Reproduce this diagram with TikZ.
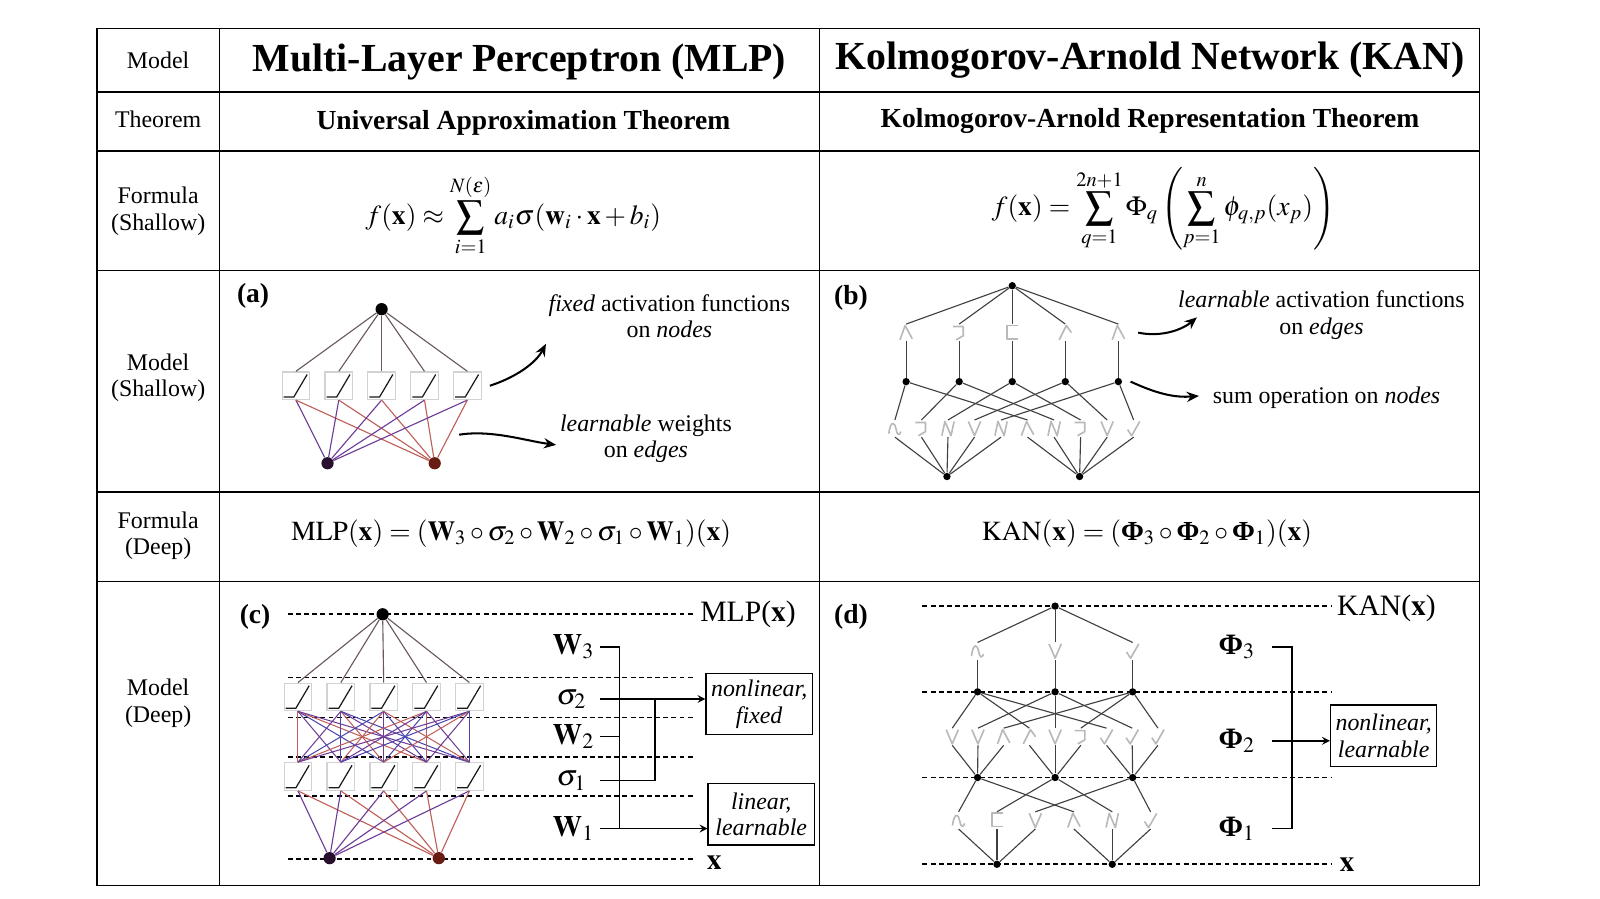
\documentclass[tikz,border=0pt]{standalone}
\usepackage{amsmath}
\usepackage{mathptmx}
\usepackage[no-math]{fontspec}
\setmainfont{Liberation Serif}
\usetikzlibrary{arrows.meta}
\definecolor{edgegray}{RGB}{105,88,92}
\definecolor{mlpviolet}{RGB}{110,60,150}
\definecolor{mlpblue}{RGB}{75,70,175}
\definecolor{mlpred}{RGB}{190,95,90}
\definecolor{leftnode}{RGB}{40,15,45}
\definecolor{rightnode}{RGB}{105,28,20}

\begin{document}
\begin{tikzpicture}[x=0.5pt, y=-0.5pt, >=stealth,
  grid/.style={line width=0.7pt},
  layer/.style={line width=0.8pt, dash pattern=on 2.4pt off 1.6pt},
  lbl/.style={align=center, font=\fontsize{11.7}{13}\selectfont},
  ttl/.style={font=\fontsize{19.5}{22}\selectfont\bfseries},
  thm/.style={font=\fontsize{13.5}{16}\selectfont\bfseries},
  fml/.style={font=\fontsize{13.5}{16}\selectfont},
  note/.style={align=center, font=\fontsize{11.7}{13}\selectfont},
  tag/.style={font=\fontsize{13.5}{16}\selectfont\bfseries},
  sym/.style={font=\fontsize{14.5}{16}\selectfont, inner sep=0pt},
  notebox/.style={draw, line width=0.7pt, align=center, minimum width=52pt, minimum height=30pt, inner sep=1pt, font=\fontsize{11.7}{13}\selectfont\itshape},
  dot/.style={circle, fill=black, inner sep=0pt, minimum size=6pt},
  kdot/.style={circle, fill=black, inner sep=0pt, minimum size=3.6pt},
  relubox/.style={rectangle, draw=gray!35, line width=0.6pt, fill=white, minimum size=13.5pt, inner sep=0pt},
  act/.style={inner sep=0pt, minimum width=7pt, minimum height=8pt},
  glyph/.style={gray!55, line width=0.8pt, line join=round},
  kedge/.style={black!75, line width=0.55pt},
  topedge/.style={edgegray, line width=0.55pt},
  ledge/.style={mlpviolet, line width=0.55pt},
  redge/.style={mlpred, line width=0.55pt},
  medge0/.style={mlpviolet, line width=0.5pt},
  medge1/.style={mlpblue, line width=0.5pt},
  medge2/.style={mlpred, line width=0.5pt},
  brk/.style={line width=0.7pt},
  notearrow/.style={->, >={Stealth[length=6pt, width=5pt]}, line width=1pt},
  pics/relu/.style={code={\draw[gray!20!black, line width=0.6pt] (-12,11) -- (-2,11) -- (11,-11);}},
  pics/kbump/.style={code={\draw[glyph] (-6,7) -- (-1,-7) -- (6,6);}},
  pics/kvalley/.style={code={\draw[glyph] (-6,-7) -- (0,7) -- (6,-7);}},
  pics/kroot/.style={code={\draw[glyph] (-6,1) -- (-2,7) -- (6,-7);}},
  pics/khook/.style={code={\draw[glyph] (-6,-6) -- (4,-6) -- (4,3) -- (-3,7);}},
  pics/kbox/.style={code={\draw[glyph] (6,-7) -- (-5,-7) -- (-5,6) -- (6,6);}},
  pics/kwave/.style={code={\draw[glyph] (-6,5) .. controls (-4,-9) and (0,-6) .. (1,0) .. controls (2,6) and (4,8) .. (6,3);}},
  pics/kN/.style={code={\draw[glyph] (-6,7) -- (-3,-7) -- (3,7) -- (6,-7);}},
  pics/kramp/.style={code={\draw[glyph] (-6,7) -- (1,-7) -- (6,0);}}
]
\newcommand{\Mlpl}{282}; % left end of dashed layers (c)
\newcommand{\Mlpr}{680}; % right end of dashed layers (c)
\newcommand{\Kanl}{904}; % left end of dashed layers (d)
\newcommand{\Kanr}{1305}; % right end of dashed layers (d)

\useasboundingbox (0,0) rectangle (1568,881);

% table
\draw[grid] (95,28) rectangle (1450,868);
\foreach \y in {90,148,265,482,570} \draw[grid] (95,\y) -- (1450,\y);
\draw[grid] (215,28) -- (215,868);
\draw[grid] (803,28) -- (803,868);

% row labels
\node[lbl] (rModel) at (155,59) {Model};
\node[lbl] (rThm) at (155,117) {Theorem};
\node[lbl] (rFs) at (155,207) {Formula\\(Shallow)};
\node[lbl] (rMs) at (155,370) {Model\\(Shallow)};
\node[lbl] (rFd) at (155,525) {Formula\\(Deep)};
\node[lbl] (rMd) at (155,689) {Model\\(Deep)};

% headers
\node[ttl] (tMLP) at (509,61) {Multi-Layer Perceptron (MLP)};
\node[ttl] (tKAN) at (1127,59) {Kolmogorov-Arnold Network (KAN)};
\node[thm] (hMLP) at (513,120) {Universal Approximation Theorem};
\node[thm] (hKAN) at (1127,119) {Kolmogorov-Arnold Representation Theorem};

% formulas
\node[fml] (fsMLP) at (503,211) {$\displaystyle f(\mathbf{x}) \approx \sum_{i=1}^{N(\epsilon)} a_i\sigma(\mathbf{w}_i\cdot\mathbf{x}+b_i)$};
\node[fml] (fsKAN) at (1140,205) {$\displaystyle f(\mathbf{x}) = \sum_{q=1}^{2n+1}\Phi_q\left(\sum_{p=1}^{n}\phi_{q,p}(x_p)\right)$};
\node[fml] (fdMLP) at (501,523) {$\mathrm{MLP}(\mathbf{x}) = (\mathbf{W}_3\circ\sigma_2\circ\mathbf{W}_2\circ\sigma_1\circ\mathbf{W}_1)(\mathbf{x})$};
\node[fml] (fdKAN) at (1124,523) {$\mathrm{KAN}(\mathbf{x}) = (\text{\bfseries Φ}_3\circ\text{\bfseries Φ}_2\circ\text{\bfseries Φ}_1)(\mathbf{x})$};

% (a) shallow MLP
\node[tag] (tagA) at (248,290) {(a)};
\node[dot] (aTop) at (374,303) {};
\node[dot, fill=leftnode] (aL) at (321,454) {};
\node[dot, fill=rightnode] (aR) at (426,454) {};
\foreach \x [count=\i] in {290,332,374,416,458} {
  \node[relubox] (a\i) at (\x,378) {};
  \pic at (a\i) {relu};
  \draw[topedge] (aTop) -- (a\i.north);
  \draw[ledge] (aL) -- (a\i.south);
  \draw[redge] (aR) -- (a\i.south);
}
\node[note] (aFix) at (656,310) {\textit{fixed} activation functions\\on \textit{nodes}};
\node[note] (aLrn) at (633,430) {\textit{learnable} weights\\on \textit{edges}};
\coordinate (aFixTip) at (535,337);
\coordinate (aW0) at (450,426);
\coordinate (aWTip) at (545,436);
\draw[notearrow] ([xshift=4pt]a5.east) .. controls (505,370) and (525,356) .. (aFixTip);
\draw[notearrow] (aW0) .. controls (482,421) and (515,432) .. (aWTip);

% (b) shallow KAN
\node[tag] (tagB) at (834,292) {(b)};
\node[kdot] (bOut) at (992,280) {};
\foreach \x/\g [count=\i] in {888/kbump,940/khook,992/kbox,1044/kramp,1096/kbump} {
  \node[act] (bu\i) at (\x,326) {};
  \pic at (bu\i) {\g};
  \node[kdot] (bh\i) at (\x,374) {};
  \draw[kedge] (bu\i.north) -- (bOut);
  \draw[kedge] (bh\i) -- (bu\i.south);
}
\node[kdot] (bIn1) at (928,467) {};
\node[kdot] (bIn2) at (1058,467) {};
\foreach \g [count=\k] in {kwave,khook,kN,kvalley,kN,kbump,kN,khook,kvalley,kroot} {
  \pgfmathtruncatemacro{\src}{\k<6 ? 1 : 2}
  \pgfmathtruncatemacro{\dst}{\k<6 ? \k : \k-5}
  \node[act] (bl\k) at ({851+26*\k},420) {};
  \pic at (bl\k) {\g};
  \draw[kedge] (bIn\src) -- (bl\k.south);
  \draw[kedge] (bl\k.north) -- (bh\dst);
}
\node[note] (bLrn) at (1295,309) {\textit{learnable} activation functions\\on \textit{edges}};
\node[note] (bSum) at (1300,390) {sum operation on \textit{nodes}};
\coordinate (bLrnTip) at (1173,311);
\coordinate (bSumTip) at (1175,388);
\draw[notearrow] ([xshift=6pt]bu5.east) .. controls (1140,331) and (1160,322) .. (bLrnTip);
\draw[notearrow] ([xshift=4pt]bh5.east) .. controls (1132,385) and (1150,390) .. (bSumTip);

% (c) deep MLP
\node[tag] (tagC) at (250,605) {(c)};
\foreach \y in {602,664,703,742,780,842} \draw[layer] (\Mlpl,\y) -- (\Mlpr,\y);
\node[sym, right] (cOutTxt) at (686,602) {MLP($\mathbf{x}$)};
\node[sym] (cInTxt) at (700,845) {$\mathbf{x}$};
\node[dot] (cTop) at (375,602) {};
\node[dot, fill=leftnode] (cL) at (323,841) {};
\node[dot, fill=rightnode] (cR) at (430,841) {};
\foreach \x [count=\i] in {292,334,376,418,460} {
  \node[relubox] (cu\i) at (\x,683) {};
  \pic at (cu\i) {relu};
  \node[relubox] (cl\i) at (\x,761) {};
  \pic at (cl\i) {relu};
  \draw[topedge] (cTop) -- (cu\i.north);
  \draw[ledge] (cL) -- (cl\i.south);
  \draw[redge] (cR) -- (cl\i.south);
}
\foreach \i in {1,...,5} \foreach \j in {1,...,5} {
  \pgfmathtruncatemacro{\c}{mod(\i+\j,3)}
  \draw[medge\c] (cu\i.south) -- (cl\j.north);
}
\node[sym] (w3) at (562,634) {$\mathbf{W}_3$};
\node[sym] (s2) at (560,685) {$\sigma_2$};
\node[sym] (w2) at (562,722) {$\mathbf{W}_2$};
\node[sym] (s1) at (560,765) {$\sigma_1$};
\node[sym] (w1) at (562,812) {$\mathbf{W}_1$};
\node[notebox] (nFix) at (744,690) {nonlinear,\\fixed};
\node[notebox] (nLin) at (746,798) {linear,\\learnable};
\coordinate (tk) at (588,0);
\coordinate (wv) at (607,0);
\coordinate (sv) at (642,0);
\draw[brk] (w3 -| tk) -- (w3 -| wv) -- (w1 -| wv);
\draw[brk] (w2 -| tk) -- (w2 -| wv);
\draw[brk, ->] (w1 -| tk) -- (w1 -| nLin.west);
\draw[brk, ->] (s2 -| tk) -- (s2 -| nFix.west);
\draw[brk] (s1 -| tk) -- (s1 -| sv) -- (s2 -| sv);

% (d) deep KAN
\node[tag] (tagD) at (834,605) {(d)};
\foreach \y in {594,678,762,847} \draw[layer] (\Kanl,\y) -- (\Kanr,\y);
\node[sym, right] (dOutTxt) at (1310,596) {KAN($\mathbf{x}$)};
\node[sym] (dInTxt) at (1320,847) {$\mathbf{x}$};
\node[kdot] (dOut) at (1034,594) {};
\foreach \x/\g [count=\i] in {958/kwave,1034/kvalley,1110/kroot} {
  \node[act] (du\i) at (\x,638) {};
  \pic at (du\i) {\g};
  \node[kdot] (dh\i) at (\x,678) {};
  \node[kdot] (dg\i) at (\x,762) {};
  \draw[kedge] (du\i.north) -- (dOut);
  \draw[kedge] (dh\i) -- (du\i.south);
}
\foreach \g [count=\k] in {kvalley,kvalley,kbump,kramp,kvalley,khook,kroot,kroot,kroot} {
  \pgfmathtruncatemacro{\src}{div(\k-1,3)+1}
  \pgfmathtruncatemacro{\dst}{mod(\k-1,3)+1}
  \node[act] (dm\k) at ({1034+25.2*(\k-5)},722) {};
  \pic at (dm\k) {\g};
  \draw[kedge] (dg\src) -- (dm\k.south);
  \draw[kedge] (dm\k.north) -- (dh\dst);
}
\node[kdot] (dIn1) at (977,847) {};
\node[kdot] (dIn2) at (1090,847) {};
\foreach \g [count=\k] in {kwave,kbox,kvalley,kbump,kN,kroot} {
  \pgfmathtruncatemacro{\src}{\k<4 ? 1 : 2}
  \pgfmathtruncatemacro{\dst}{mod(\k-1,3)+1}
  \pgfmathsetmacro{\xx}{\k<4 ? 977+37.6*(\k-2) : 1090+37.6*(\k-5)}
  \node[act] (dl\k) at (\xx,804) {};
  \pic at (dl\k) {\g};
  \draw[kedge] (dIn\src) -- (dl\k.south);
  \draw[kedge] (dl\k.north) -- (dg\dst);
}
\node[sym] (p3) at (1212,634) {$\text{\bfseries Φ}_3$};
\node[sym] (p2) at (1212,726) {$\text{\bfseries Φ}_2$};
\node[sym] (p1) at (1212,812) {$\text{\bfseries Φ}_1$};
\node[notebox] (nLrn) at (1356,721) {nonlinear,\\learnable};
\coordinate (ptk) at (1247,0);
\coordinate (pv) at (1266,0);
\draw[brk] (p3 -| ptk) -- (p3 -| pv) -- (p1 -| pv) -- (p1 -| ptk);
\draw[brk, ->] (p2 -| ptk) -- (p2 -| nLrn.west);
\end{tikzpicture}
\end{document}
